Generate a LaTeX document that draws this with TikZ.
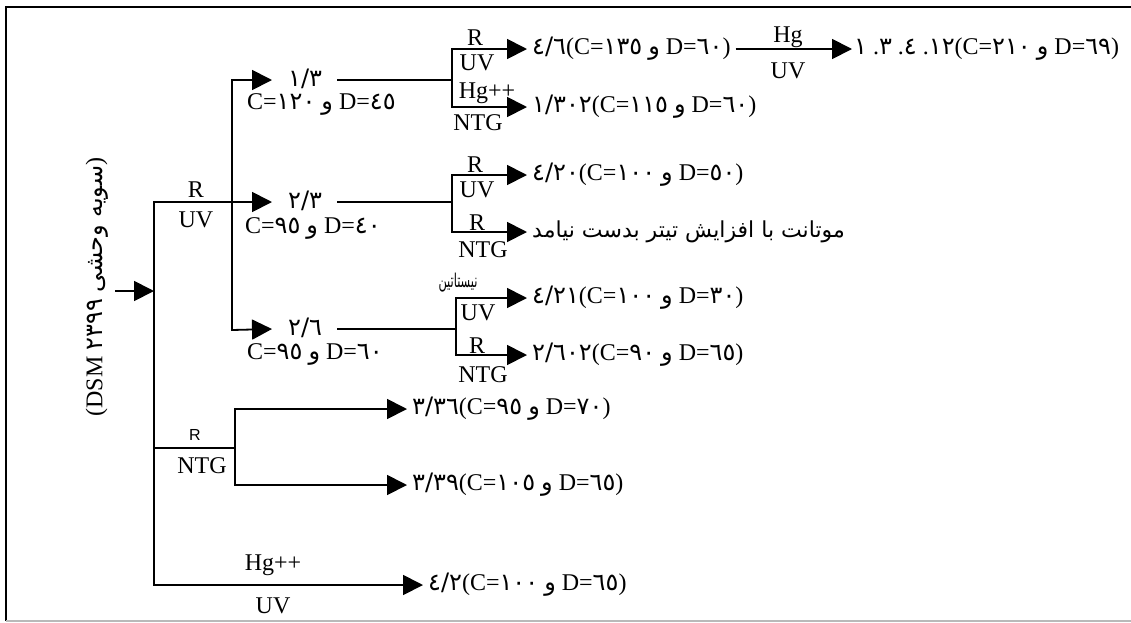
\documentclass[tikz,border=0pt]{standalone}
\usepackage{fontspec}
\setmainfont{Liberation Serif}
\setsansfont{Liberation Sans}
\newfontfamily\arfont[Script=Arabic]{DejaVu Sans}
\newfontfamily\fasans[Script=Arabic]{DejaVu Sans}
\TeXXeTstate=1
\usetikzlibrary{arrows.meta}
\newcommand\dg[1]{{\arfont #1}}
\newcommand\wa{{\arfont و}}
\begin{document}
\begin{tikzpicture}[x=1pt,y=-1pt,
  ln/.style={line width=1.8pt,line cap=rect},
  arr/.style={line width=1.8pt,-{Triangle[length=20pt,width=20pt]}},
  lbl/.style={font=\fontsize{24}{27}\selectfont,inner sep=0pt,anchor=base},
  res/.style={font=\fontsize{24}{27}\selectfont,anchor=west,inner sep=5pt},
  mid/.style={font=\fontsize{24}{27}\selectfont,anchor=west,inner xsep=16pt,inner ysep=0pt,text height=13pt,text depth=0pt},
  sub/.style={font=\fontsize{24}{27}\selectfont,anchor=base west,inner sep=0pt}]
\useasboundingbox (0,0) rectangle (1131,622);
% frame
\draw[line width=1.5pt] (6,621) -- (6,7) -- (1131,7);
\draw[gray!55,line width=1.5pt] (6,621) -- (1131,621);
% title
\node[rotate=90,font=\fontsize{24}{27}\selectfont,inner sep=0pt] (title) at (97,287)
  {(DSM \dg{٢٣٩٩} {\arfont\beginR سویه وحشی\endR})};
% junction coordinates
\coordinate (src) at (115,291);
\coordinate (m) at (154,291);
\coordinate (mt) at (154,202);
\coordinate (mj2) at (154,448);
\coordinate (mb) at (154,585);
\coordinate (j1) at (232,202);
\coordinate (j1t) at (232,80);
\coordinate (j1b) at (232,330);
\coordinate (j2) at (235,448);
\coordinate (j2t) at (235,409);
\coordinate (j2b) at (235,485);
\coordinate (k1) at (452,80);
\coordinate (k1t) at (452,49);
\coordinate (k1b) at (452,107);
\coordinate (k2) at (452,202);
\coordinate (k2t) at (452,175);
\coordinate (k2b) at (452,232);
\coordinate (k3) at (456,329);
\coordinate (k3t) at (456,298);
\coordinate (k3b) at (456,355);
% middle nodes
\node[mid] (n13) at (272,80) {\dg{١/٣}};
\node[mid] (n23) at (272,202) {\dg{٢/٣}};
\node[mid] (n26) at (272,329) {\dg{٢/٦}};
\node[sub] (c13) at (247,109) {C=\dg{١٢٠} \wa{} D=\dg{٤٥}};
\node[sub] (c23) at (245,233) {C=\dg{٩٥} \wa{} D=\dg{٤٠}};
\node[sub] (c26) at (247,359) {C=\dg{٩٥} \wa{} D=\dg{٦٠}};
% result nodes
\node[res] (r1) at (527,49) {\dg{٤/٦}(C=\dg{١٣٥} \wa{} D=\dg{٦٠})};
\node[res] (r2) at (527,107) {\dg{١/٣٠٢}(C=\dg{١١٥} \wa{} D=\dg{٦٠})};
\node[res] (r3) at (527,175) {\dg{٤/٢٠}(C=\dg{١٠٠} \wa{} D=\dg{٥٠})};
\node[res,font=\fasans\fontsize{22}{25}\selectfont] (r4) at (527,232) {\beginR موتانت با افزایش تیتر بدست نیامد\endR};
\node[res] (r5) at (527,298) {\dg{٤/٢١}(C=\dg{١٠٠} \wa{} D=\dg{٣٠})};
\node[res] (r6) at (527,355) {\dg{٢/٦٠٢}(C=\dg{٩٠} \wa{} D=\dg{٦٥})};
\node[res] (r7) at (407,409) {\dg{٣/٣٦}(C=\dg{٩٥} \wa{} D=\dg{٧٠})};
\node[res] (r8) at (407,485) {\dg{٣/٣٩}(C=\dg{١٠٥} \wa{} D=\dg{٦٥})};
\node[res] (r9) at (423,585) {\dg{٤/٢}(C=\dg{١٠٠} \wa{} D=\dg{٦٥})};
\node[res,inner xsep=2pt] (r1b) at (852,49) {\dg{١} .\dg{٣} .\dg{٤} .\dg{١٢}(C=\dg{٢١٠} \wa{} D=\dg{٦٩})};
% branch labels
\node[lbl] (lR0) at (196,197) {R};
\node[lbl] (lU0) at (196,227) {UV};
\node[lbl] (lR1) at (475,45) {R};
\node[lbl] (lU1) at (477,70) {UV};
\node[lbl] (lH2) at (487,98) {Hg++};
\node[lbl] (lN2) at (478,130) {NTG};
\node[lbl] (lR3) at (475,172) {R};
\node[lbl] (lU3) at (477,197) {UV};
\node[lbl] (lR4) at (477,230) {R};
\node[lbl] (lN4) at (483,257) {NTG};
\node[lbl,xscale=0.6,font=\fasans\fontsize{19}{21}\selectfont] (lNy5) at (458,287) {\beginR نیستاتین\endR};
\node[lbl] (lU5) at (478,320) {UV};
\node[lbl] (lR6) at (477,353) {R};
\node[lbl] (lN6) at (483,382) {NTG};
\node[lbl,font=\sffamily\fontsize{16}{18}\selectfont] (lR7) at (195,440) {R};
\node[lbl] (lN7) at (202,473) {NTG};
\node[lbl] (lH9) at (273,570) {Hg++};
\node[lbl] (lU9) at (273,613) {UV};
\node[lbl] (lHg) at (788,42) {Hg};
\node[lbl] (lUb) at (788,78) {UV};
% connectors
\draw[arr] (src) -- (m);
\draw[ln] (mt) -- (mb);
\draw[ln] (mt) -- (j1);
\draw[ln] (j1t) -- (j1b);
\draw[arr] (j1t) -- (n13.west);
\draw[arr] (j1) -- (n23.west);
\draw[arr] (j1b) -- (n26.west);
\draw[ln] (n13.east) -- (k1);
\draw[ln] (n23.east) -- (k2);
\draw[ln] (n26.east) -- (k3);
\draw[ln] (k1t) -- (k1b);
\draw[ln] (k2t) -- (k2b);
\draw[ln] (k3t) -- (k3b);
\draw[arr] (k1t) -- (r1.west);
\draw[arr] (k1b) -- (r2.west);
\draw[arr] (k2t) -- (r3.west);
\draw[arr] (k2b) -- (r4.west);
\draw[arr] (k3t) -- (r5.west);
\draw[arr] (k3b) -- (r6.west);
\draw[arr] (r1.east) -- (r1b.west);
\draw[ln] (mj2) -- (j2);
\draw[ln] (j2t) -- (j2b);
\draw[arr] (j2t) -- (r7.west);
\draw[arr] (j2b) -- (r8.west);
\draw[arr] (mb) -- (r9.west);
\end{tikzpicture}
\end{document}
